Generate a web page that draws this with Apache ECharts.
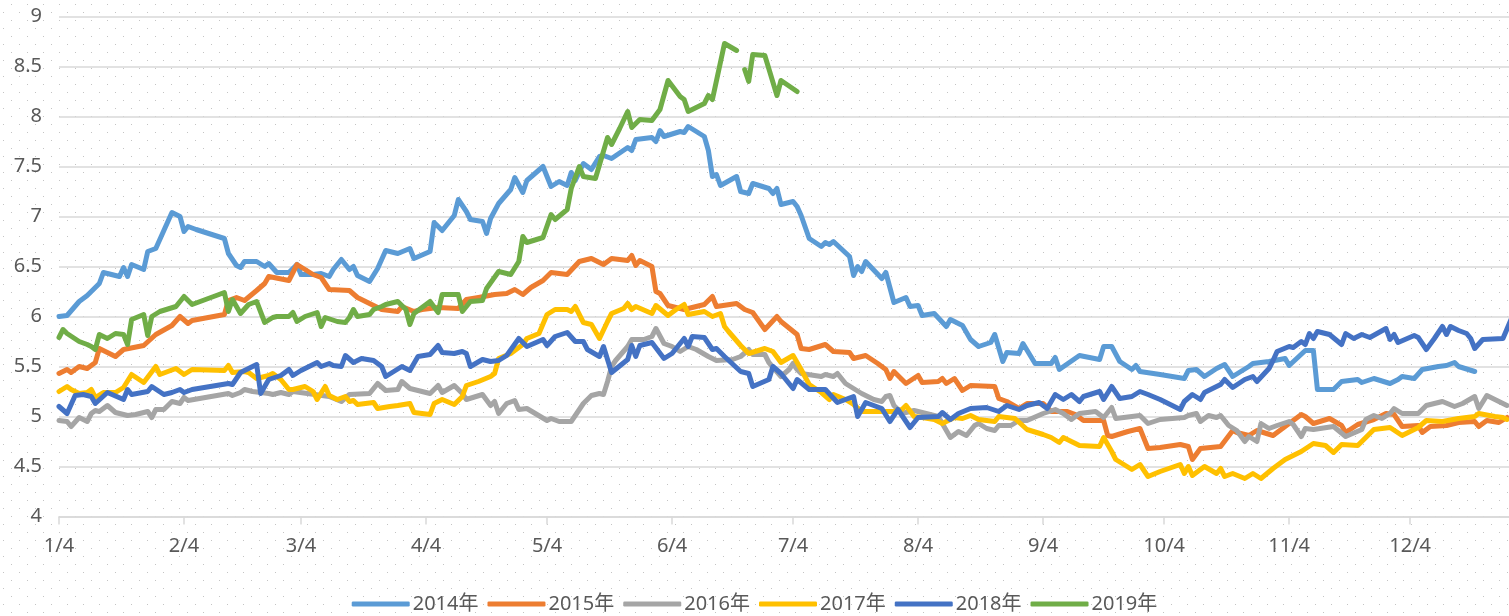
<!DOCTYPE html>
<html>
<head>
<meta charset="utf-8">
<script src="https://cdn.jsdelivr.net/npm/echarts@6/dist/echarts.min.js"></script>
<style>
html,body{margin:0;padding:0;background:#fff;}
#chart{width:1509px;height:616px;}
</style>
</head>
<body>
<div id="chart"></div>
<script>
// x = days since Jan 4 (leap-year calendar), y = value
var tickDays = [0,31,60,91,121,152,182,213,244,274,305,335];
var tickLabels = ['1/4','2/4','3/4','4/4','5/4','6/4','7/4','8/4','9/4','10/4','11/4','12/4'];
var seriesNames = ['2014年','2015年','2016年','2017年','2018年','2019年'];
var seriesColors = ['#5B9BD5','#ED7D31','#A5A5A5','#FFC000','#4472C4','#70AD47'];

var s2014 = [[0,6.00],[2,6.01],[5,6.15],[7,6.21],[10,6.33],[11,6.44],[15,6.40],[16,6.49],[17,6.40],[18,6.52],[21,6.47],[22,6.65],[24,6.68],[26,6.86],[28,7.04],[30,7.00],[31,6.85],[32,6.90],[34,6.87],[41,6.78],[42,6.63],[44,6.51],[45,6.49],[46,6.55],[49,6.55],[51,6.50],[52,6.53],[54,6.44],[57,6.44],[59,6.52],[60,6.42],[63,6.42],[65,6.43],[67,6.40],[68,6.47],[70,6.57],[72,6.47],[73,6.50],[74,6.41],[77,6.35],[79,6.48],[81,6.66],[84,6.63],[87,6.68],[88,6.58],[92,6.65],[93,6.94],[95,6.86],[98,7.01],[99,7.17],[101,7.05],[102,6.97],[105,6.95],[106,6.83],[107,6.98],[109,7.13],[112,7.27],[113,7.39],[115,7.24],[116,7.36],[120,7.50],[122,7.30],[124,7.35],[126,7.31],[127,7.44],[128,7.36],[130,7.53],[132,7.47],[134,7.60],[135,7.61],[137,7.58],[141,7.69],[142,7.66],[143,7.77],[147,7.79],[148,7.75],[149,7.86],[150,7.80],[154,7.85],[155,7.84],[156,7.90],[160,7.80],[161,7.66],[162,7.40],[163,7.42],[164,7.31],[168,7.40],[169,7.25],[171,7.23],[172,7.33],[176,7.28],[177,7.23],[178,7.28],[179,7.12],[182,7.15],[183,7.10],[184,7.01],[186,6.78],[189,6.70],[190,6.74],[191,6.72],[192,6.75],[196,6.60],[197,6.41],[198,6.50],[199,6.45],[200,6.55],[204,6.38],[205,6.44],[207,6.14],[210,6.19],[211,6.10],[213,6.11],[214,6.01],[217,6.03],[220,5.90],[221,5.97],[224,5.91],[226,5.77],[228,5.70],[231,5.74],[232,5.82],[234,5.55],[235,5.64],[238,5.63],[239,5.73],[242,5.53],[246,5.53],[247,5.59],[248,5.47],[253,5.61],[258,5.57],[259,5.70],[261,5.70],[263,5.55],[266,5.47],[267,5.51],[268,5.45],[273,5.42],[279,5.38],[280,5.46],[282,5.47],[284,5.40],[287,5.48],[289,5.52],[291,5.40],[295,5.50],[296,5.53],[300,5.55],[304,5.58],[305,5.51],[309,5.66],[311,5.66],[312,5.27],[316,5.27],[318,5.35],[322,5.37],[323,5.34],[326,5.38],[330,5.33],[332,5.37],[333,5.40],[336,5.38],[338,5.47],[342,5.50],[344,5.51],[346,5.54],[347,5.50],[351,5.45]];

var s2015 = [[0,5.43],[2,5.47],[3,5.44],[5,5.50],[7,5.48],[9,5.54],[10,5.68],[14,5.60],[16,5.67],[21,5.71],[24,5.82],[28,5.91],[30,6.00],[32,5.93],[33,5.96],[41,6.02],[42,6.16],[44,6.19],[46,6.16],[49,6.26],[51,6.33],[52,6.40],[57,6.36],[59,6.52],[63,6.42],[65,6.39],[67,6.27],[72,6.26],[74,6.19],[80,6.07],[84,6.05],[85,6.10],[88,6.05],[90,6.07],[94,6.09],[99,6.08],[101,6.17],[104,6.19],[108,6.22],[111,6.23],[113,6.27],[115,6.22],[117,6.29],[120,6.36],[122,6.44],[126,6.42],[129,6.55],[132,6.58],[135,6.52],[137,6.58],[141,6.56],[142,6.61],[143,6.51],[144,6.56],[147,6.50],[148,6.25],[149,6.23],[151,6.11],[155,6.07],[160,6.12],[162,6.20],[163,6.10],[168,6.13],[170,6.07],[172,6.04],[175,5.87],[178,6.00],[179,5.95],[183,5.82],[184,5.68],[186,5.67],[190,5.72],[192,5.65],[196,5.64],[197,5.58],[200,5.61],[203,5.53],[205,5.47],[206,5.38],[207,5.45],[210,5.33],[213,5.41],[214,5.34],[218,5.35],[219,5.38],[220,5.33],[222,5.38],[224,5.26],[226,5.31],[232,5.30],[233,5.18],[235,5.15],[238,5.08],[240,5.13],[244,5.13],[246,5.05],[250,5.05],[252,5.02],[254,4.96],[259,4.96],[260,4.81],[261,4.80],[265,4.85],[268,4.88],[270,4.68],[273,4.69],[278,4.72],[280,4.70],[281,4.57],[283,4.68],[288,4.70],[291,4.86],[292,4.84],[295,4.81],[297,4.86],[301,4.81],[305,4.93],[308,5.02],[309,5.00],[311,4.93],[315,4.98],[318,4.91],[319,4.84],[322,4.92],[326,4.97],[329,5.03],[331,5.02],[333,4.90],[337,4.91],[338,4.84],[340,4.90],[344,4.91],[347,4.94],[351,4.95],[352,4.90],[354,4.96],[357,4.94],[359,4.99]];

var s2016 = [[0,4.96],[2,4.95],[3,4.90],[5,4.99],[7,4.95],[8,5.03],[9,5.06],[10,5.05],[12,5.11],[14,5.04],[17,5.01],[19,5.02],[22,5.05],[23,4.99],[24,5.07],[26,5.07],[28,5.15],[30,5.13],[31,5.19],[32,5.16],[42,5.23],[43,5.21],[45,5.24],[46,5.27],[48,5.25],[52,5.23],[53,5.22],[55,5.24],[57,5.22],[58,5.25],[67,5.20],[70,5.15],[72,5.22],[77,5.23],[79,5.33],[81,5.26],[84,5.27],[85,5.35],[87,5.28],[92,5.23],[94,5.31],[95,5.24],[98,5.31],[100,5.23],[101,5.17],[105,5.22],[107,5.11],[108,5.15],[109,5.03],[111,5.13],[113,5.16],[114,5.07],[116,5.08],[121,4.96],[122,4.98],[124,4.95],[127,4.95],[130,5.13],[132,5.21],[134,5.23],[135,5.22],[136,5.35],[137,5.50],[138,5.56],[141,5.70],[142,5.77],[145,5.77],[147,5.80],[148,5.88],[150,5.73],[152,5.70],[154,5.65],[156,5.70],[158,5.67],[161,5.60],[163,5.56],[167,5.57],[169,5.60],[171,5.67],[172,5.62],[175,5.62],[176,5.54],[179,5.40],[181,5.47],[182,5.53],[183,5.47],[184,5.43],[189,5.40],[190,5.42],[192,5.40],[193,5.43],[195,5.33],[199,5.23],[202,5.17],[204,5.15],[205,5.20],[206,5.21],[207,5.11],[209,5.03],[212,5.06],[218,5.00],[221,4.79],[223,4.85],[225,4.81],[227,4.91],[228,4.93],[230,4.88],[232,4.86],[233,4.91],[236,4.91],[238,4.96],[240,4.96],[244,5.03],[247,5.07],[249,5.03],[251,4.97],[253,5.03],[257,5.05],[259,4.99],[261,5.09],[262,4.98],[266,5.00],[268,5.01],[270,4.93],[273,4.97],[279,4.99],[280,5.01],[282,5.03],[283,4.95],[285,5.01],[287,4.99],[288,5.01],[290,4.91],[292,4.86],[294,4.75],[295,4.80],[297,4.75],[298,4.93],[300,4.88],[302,4.91],[305,4.95],[306,4.92],[308,4.80],[309,4.88],[311,4.87],[316,4.90],[319,4.80],[323,4.87],[324,4.97],[326,5.01],[328,4.98],[330,5.03],[331,5.08],[333,5.03],[337,5.03],[339,5.11],[343,5.15],[346,5.10],[348,5.13],[351,5.20],[352,5.08],[354,5.21],[357,5.15],[359,5.11]];

var s2017 = [[0,5.25],[2,5.30],[3,5.27],[5,5.23],[7,5.24],[8,5.27],[9,5.19],[11,5.24],[14,5.24],[16,5.29],[18,5.42],[21,5.34],[24,5.50],[25,5.42],[29,5.48],[31,5.42],[33,5.47],[41,5.46],[42,5.51],[43,5.44],[46,5.45],[47,5.44],[49,5.38],[52,5.41],[53,5.43],[55,5.37],[57,5.27],[58,5.27],[61,5.30],[63,5.25],[64,5.17],[66,5.30],[67,5.21],[69,5.17],[71,5.20],[72,5.15],[73,5.16],[74,5.12],[78,5.14],[79,5.08],[82,5.10],[84,5.11],[87,5.13],[88,5.04],[92,5.02],[93,5.13],[95,5.17],[98,5.12],[100,5.20],[101,5.31],[104,5.35],[107,5.40],[108,5.43],[109,5.58],[112,5.63],[115,5.72],[116,5.78],[119,5.83],[121,6.02],[123,6.07],[126,6.07],[127,6.05],[128,6.10],[130,5.94],[132,5.92],[134,5.78],[136,5.95],[137,6.03],[140,6.08],[141,6.13],[142,6.07],[143,6.10],[147,6.03],[148,6.11],[151,6.01],[153,6.07],[155,6.12],[156,6.02],[160,6.05],[162,6.00],[164,6.03],[165,5.90],[166,5.85],[169,5.71],[171,5.63],[175,5.68],[177,5.65],[179,5.54],[182,5.61],[184,5.47],[186,5.32],[189,5.24],[191,5.17],[192,5.22],[195,5.17],[197,5.12],[199,5.05],[204,5.05],[207,5.05],[209,5.07],[210,5.11],[212,5.00],[214,4.99],[217,4.97],[219,4.93],[222,4.99],[224,4.98],[226,5.01],[228,4.97],[232,4.95],[233,5.00],[237,4.98],[240,4.87],[244,4.82],[246,4.79],[248,4.74],[249,4.79],[253,4.71],[258,4.70],[259,4.79],[261,4.65],[262,4.57],[266,4.47],[268,4.52],[270,4.40],[273,4.45],[278,4.52],[279,4.43],[280,4.50],[281,4.41],[284,4.50],[287,4.43],[288,4.48],[289,4.40],[291,4.43],[294,4.38],[296,4.43],[298,4.38],[301,4.48],[304,4.57],[308,4.65],[311,4.73],[314,4.71],[316,4.64],[318,4.72],[322,4.71],[326,4.87],[330,4.89],[333,4.81],[337,4.89],[339,4.96],[343,4.95],[347,4.98],[351,5.00],[352,5.03],[356,5.00],[358,4.99],[359,4.97]];

var s2018 = [[0,5.10],[2,5.03],[4,5.21],[6,5.22],[8,5.20],[9,5.13],[12,5.24],[16,5.17],[17,5.27],[18,5.22],[22,5.25],[23,5.30],[26,5.22],[28,5.24],[30,5.27],[31,5.24],[33,5.27],[42,5.33],[43,5.32],[45,5.44],[47,5.48],[49,5.52],[50,5.23],[52,5.37],[55,5.41],[57,5.47],[58,5.41],[60,5.46],[64,5.54],[65,5.50],[67,5.53],[68,5.51],[70,5.50],[71,5.61],[73,5.54],[75,5.58],[78,5.56],[80,5.50],[81,5.40],[85,5.50],[87,5.46],[89,5.60],[92,5.62],[94,5.71],[95,5.64],[98,5.63],[100,5.65],[101,5.63],[102,5.50],[105,5.57],[107,5.55],[109,5.56],[111,5.61],[114,5.78],[116,5.70],[120,5.77],[121,5.71],[123,5.80],[126,5.84],[128,5.75],[130,5.75],[131,5.67],[134,5.60],[135,5.70],[137,5.44],[141,5.57],[142,5.71],[143,5.60],[144,5.71],[147,5.74],[150,5.58],[152,5.63],[155,5.78],[156,5.70],[157,5.80],[160,5.79],[162,5.67],[163,5.68],[165,5.60],[169,5.45],[171,5.43],[172,5.30],[176,5.37],[177,5.50],[179,5.43],[182,5.28],[183,5.37],[186,5.27],[190,5.27],[193,5.14],[197,5.20],[198,5.00],[200,5.14],[204,5.08],[206,4.95],[208,5.07],[211,4.89],[213,4.99],[218,5.00],[219,5.04],[221,4.97],[223,5.03],[226,5.08],[230,5.09],[233,5.05],[235,5.11],[238,5.07],[240,5.11],[243,5.14],[245,5.08],[247,5.22],[249,5.17],[251,5.22],[253,5.15],[254,5.20],[258,5.25],[259,5.17],[261,5.30],[263,5.18],[266,5.20],[268,5.25],[270,5.22],[273,5.17],[278,5.07],[279,5.15],[281,5.22],[283,5.17],[284,5.24],[288,5.32],[289,5.37],[291,5.29],[294,5.37],[296,5.40],[297,5.35],[300,5.48],[301,5.56],[302,5.65],[305,5.70],[306,5.69],[308,5.75],[309,5.72],[310,5.83],[311,5.78],[312,5.85],[315,5.82],[318,5.72],[319,5.83],[321,5.78],[323,5.82],[325,5.79],[329,5.88],[330,5.77],[331,5.82],[332,5.74],[336,5.81],[337,5.79],[339,5.67],[341,5.78],[343,5.90],[344,5.82],[345,5.90],[347,5.86],[349,5.83],[350,5.78],[351,5.68],[353,5.77],[358,5.78],[360,5.97]];

var s2019 = [[0,5.79],[1,5.87],[2,5.83],[5,5.75],[7,5.72],[8,5.70],[9,5.67],[10,5.82],[12,5.78],[14,5.83],[16,5.82],[17,5.72],[18,5.97],[21,6.02],[22,5.81],[23,6.00],[25,6.05],[29,6.10],[31,6.20],[33,6.12],[41,6.24],[42,6.05],[43,6.17],[45,6.03],[47,6.12],[49,6.15],[51,5.94],[53,5.99],[54,6.00],[57,6.00],[58,6.04],[59,5.95],[61,6.00],[64,6.04],[65,5.90],[66,5.99],[69,5.95],[71,5.94],[72,5.99],[73,6.07],[74,6.00],[77,6.02],[78,6.07],[80,6.10],[81,6.12],[84,6.15],[86,6.07],[87,5.92],[88,6.03],[92,6.15],[94,6.04],[95,6.22],[99,6.22],[100,6.05],[102,6.15],[105,6.16],[106,6.28],[109,6.45],[112,6.42],[114,6.55],[115,6.80],[116,6.74],[120,6.79],[122,7.02],[123,6.97],[126,7.07],[127,7.28],[129,7.50],[130,7.40],[133,7.38],[136,7.79],[137,7.72],[139,7.88],[141,8.05],[142,7.89],[144,7.97],[147,7.96],[149,8.07],[151,8.36],[154,8.20],[155,8.17],[156,8.05],[160,8.13],[161,8.21],[162,8.17],[165,8.73],[168,8.66],[169,'-'],[170,8.47],[171,8.35],[172,8.62],[175,8.61],[178,8.21],[179,8.36],[183,8.25]];

var allData = [s2014, s2015, s2016, s2017, s2018, s2019];

// dotted background pattern (CSS background behind a transparent chart)
var pc = document.createElement('canvas');
pc.width = 16; pc.height = 16;
var pctx = pc.getContext('2d');
pctx.fillStyle = '#ffffff';
pctx.fillRect(0,0,16,16);
pctx.fillStyle = '#c4c4c4';
pctx.fillRect(3,12,1,1);
pctx.fillRect(11,4,1,1);
var el = document.getElementById('chart');
el.style.backgroundImage = 'url(' + pc.toDataURL() + ')';
el.style.backgroundRepeat = 'repeat';

var chart = echarts.init(el, null, {renderer:'canvas'});
var FONT = '"Noto Sans", "Noto Sans CJK SC", sans-serif';

var series = allData.map(function(d, i){
  return {
    name: seriesNames[i],
    type: 'line',
    data: d,
    showSymbol: false,
    symbol: 'none',
    connectNulls: false,
    animation: false,
    lineStyle: {width: 5, color: seriesColors[i], cap: 'round', join: 'round'},
    itemStyle: {color: seriesColors[i]}
  };
});

chart.setOption({
  animation: false,
  backgroundColor: 'transparent',
  grid: {left: 59, right: 0, top: 16.5, bottom: 99.5, containLabel: false},
  legend: {
    data: seriesNames,
    bottom: -3,
    left: 'center',
    icon: 'roundRect',
    itemWidth: 58,
    itemHeight: 5,
    itemGap: 9,
    textStyle: {fontFamily: FONT, fontSize: 20, color: '#595959', padding: [0,0,0,-2]}
  },
  xAxis: {
    type: 'value',
    min: 0,
    max: 359.5,
    splitLine: {show: false},
    axisLine: {show: true, lineStyle: {color: '#d9d9d9', width: 1.5}},
    axisTick: {show: true, length: 8, lineStyle: {color: '#d9d9d9', width: 1.5}, customValues: tickDays},
    axisLabel: {
      customValues: tickDays,
      fontFamily: FONT, fontSize: 20, color: '#595959', margin: 20,
      formatter: function(v){ var k = tickDays.indexOf(Math.round(v)); return k >= 0 ? tickLabels[k] : ''; }
    }
  },
  yAxis: {
    type: 'value',
    min: 4, max: 9, interval: 0.5,
    axisLine: {show: false},
    axisTick: {show: false},
    splitLine: {show: true, lineStyle: {color: '#d9d9d9', width: 1.5}},
    axisLabel: {fontFamily: FONT, fontSize: 20, color: '#595959', margin: 17}
  },
  series: series
});
</script>
</body>
</html>
